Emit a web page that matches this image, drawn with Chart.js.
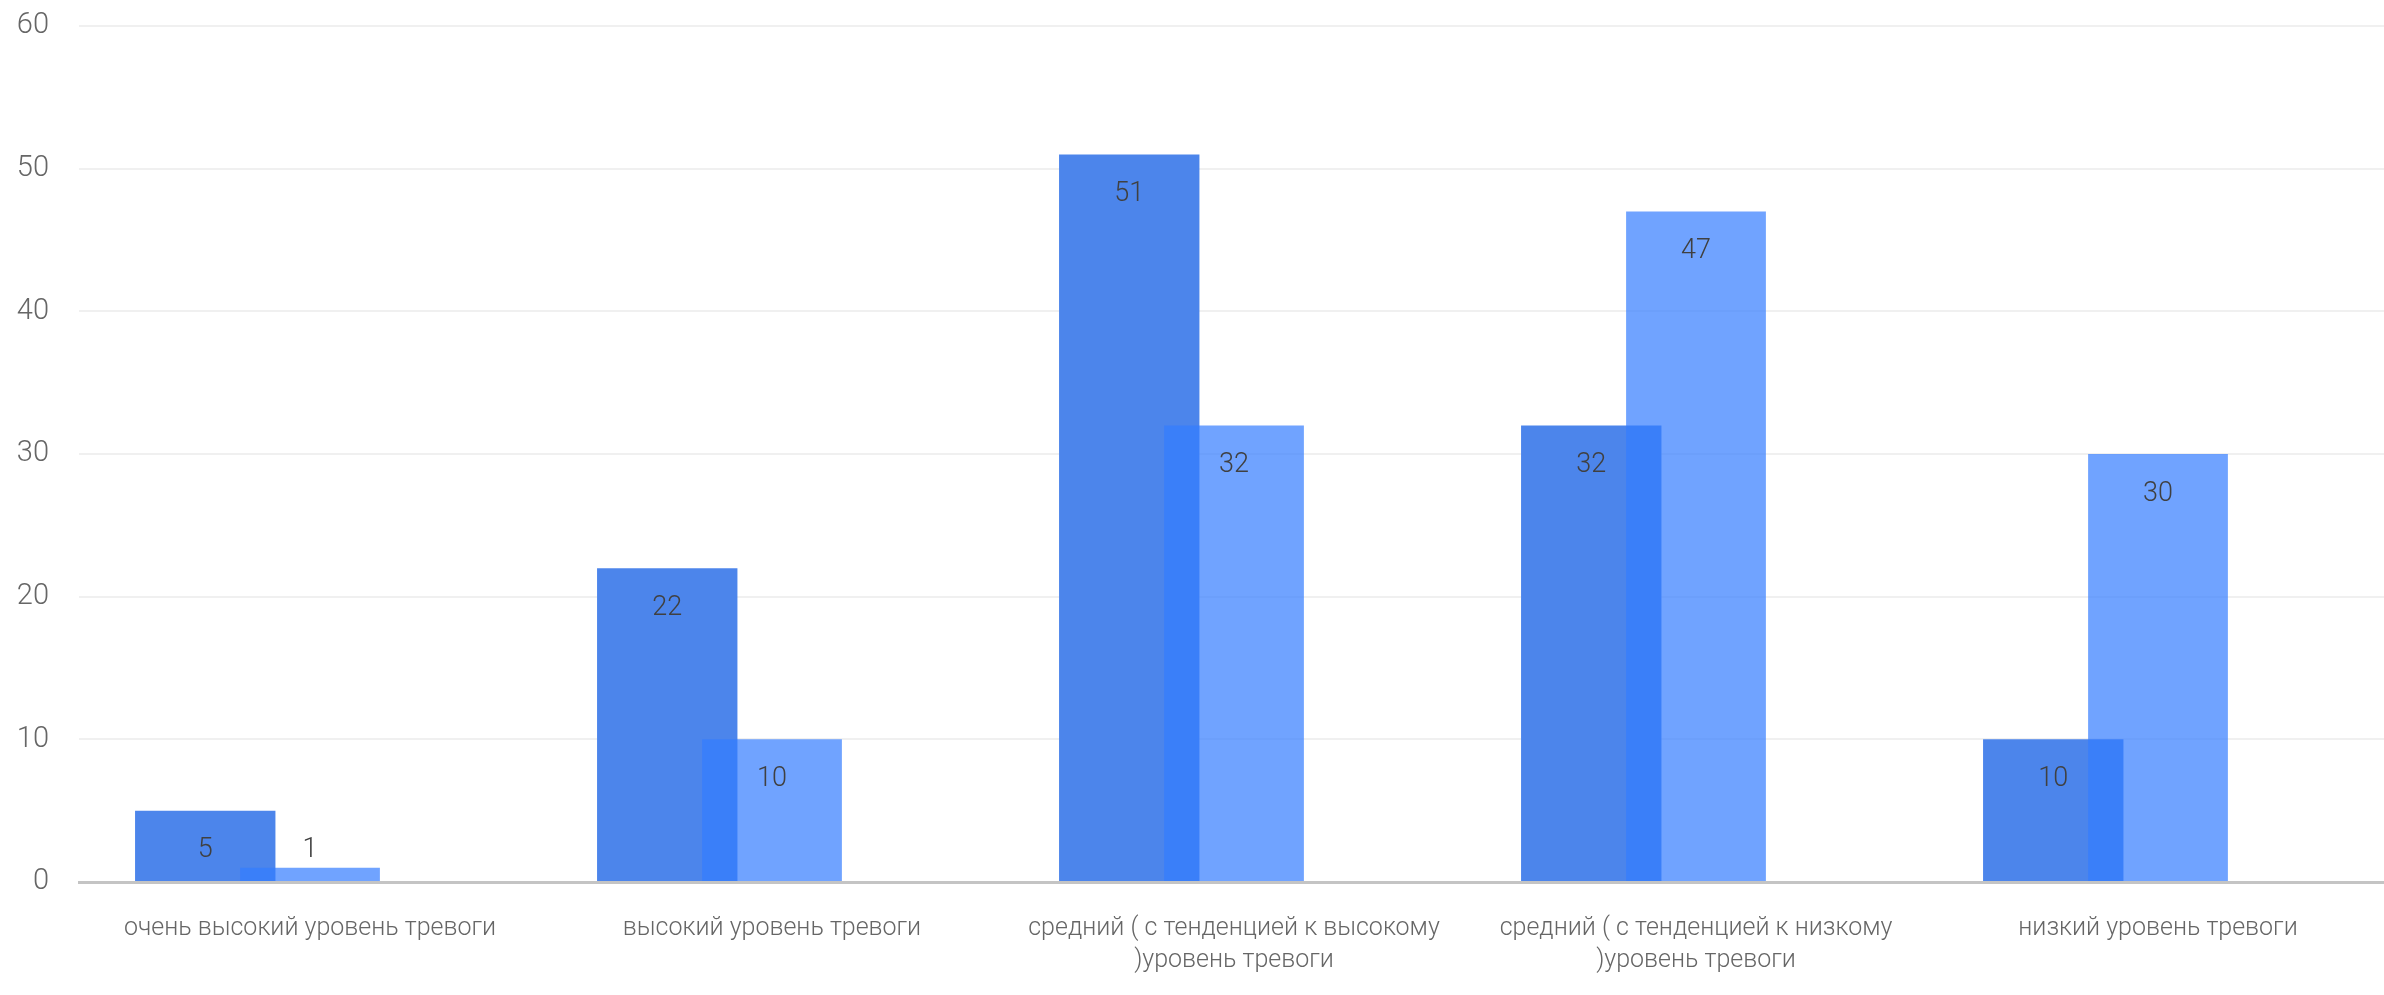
<!DOCTYPE html>
<html>
<head>
<meta charset="utf-8">
<title>Уровень тревоги</title>
<script src="https://cdn.jsdelivr.net/npm/chart.js@4/dist/chart.umd.min.js"></script>
<style>
  html, body { margin: 0; padding: 0; background: #fff; overflow: hidden; }
  /* plot runs a few pixels past the right edge, as in the original */
  #wrap { width: 2389px; height: 995px; }
</style>
</head>
<body>
<div id="wrap"><canvas id="anxietyChart"></canvas></div>
<script>
const categories = [
    'очень высокий уровень тревоги',
    'высокий уровень тревоги',
    ['средний ( с тенденцией к высокому', ')уровень тревоги'],
    ['средний ( с тенденцией к низкому', ')уровень тревоги'],
    'низкий уровень тревоги'
];
const seriesFirst = [5, 22, 51, 32, 10];
const seriesSecond = [1, 10, 32, 47, 30];
const yTicks = [0, 10, 20, 30, 40, 50, 60];

const fontFamily = "Roboto, 'Liberation Sans', sans-serif";

// value labels on top of every bar
const barValueLabels = {
    id: 'barValueLabels',
    afterDatasetsDraw(chart) {
        const ctx = chart.ctx;
        ctx.save();
        ctx.font = '300 27px ' + fontFamily;
        ctx.fillStyle = '#404040';
        ctx.textAlign = 'center';
        ctx.textBaseline = 'middle';
        [0, 1].forEach((dsIndex) => {
            const meta = chart.getDatasetMeta(dsIndex);
            const values = chart.data.datasets[dsIndex].data;
            meta.data.forEach((bar, i) => {
                const height = bar.base - bar.y;
                const y = height >= 60 ? bar.y + 40 : bar.y - 17;
                ctx.fillText(String(values[i]), bar.x, y);
            });
        });
        ctx.restore();
    }
};

new Chart(document.getElementById('anxietyChart'), {
    type: 'bar',
    data: {
        labels: categories,
        datasets: [
            {
                label: 'ряд 1',
                data: seriesFirst,
                backgroundColor: 'rgb(76, 133, 235)',
                categoryPercentage: 0.907,
                barPercentage: 0.67,
                order: 1
            },
            {
                label: 'ряд 2',
                data: seriesSecond,
                backgroundColor: 'rgba(51, 124, 255, 0.7)',
                grouped: false,
                categoryPercentage: 1,
                barPercentage: 0.3026,
                order: 0
            },
            {
                // empty slot so the first series sits left of the category centre
                label: '',
                data: [],
                order: 2
            }
        ]
    },
    options: {
        responsive: true,
        maintainAspectRatio: false,
        animation: false,
        layout: { padding: { left: 17, top: 0, right: 0, bottom: 0 } },
        plugins: {
            legend: { display: false },
            tooltip: { enabled: false }
        },
        scales: {
            x: {
                afterFit: (scale) => { scale.height = 113; },
                grid: { display: false, drawTicks: false },
                border: { display: true, color: '#c4c4c4', width: 3 },
                ticks: {
                    color: '#666666',
                    font: { family: fontFamily, size: 25, weight: '300', lineHeight: 1.26 },
                    padding: 31,
                    autoSkip: false,
                    maxRotation: 0
                }
            },
            y: {
                min: yTicks[0],
                max: yTicks[yTicks.length - 1],
                afterBuildTicks: (scale) => {
                    scale.ticks = yTicks.map(v => ({ value: v }));
                },
                afterFit: (scale) => {
                    scale.width = 62;
                    scale.paddingTop = 26;
                },
                grid: { color: '#f0f0f0', lineWidth: 2, drawTicks: false },
                border: { display: false },
                ticks: {
                    color: '#666666',
                    font: { family: fontFamily, size: 29, weight: '300' },
                    padding: 30
                }
            }
        }
    },
    plugins: [barValueLabels]
});
</script>
</body>
</html>
